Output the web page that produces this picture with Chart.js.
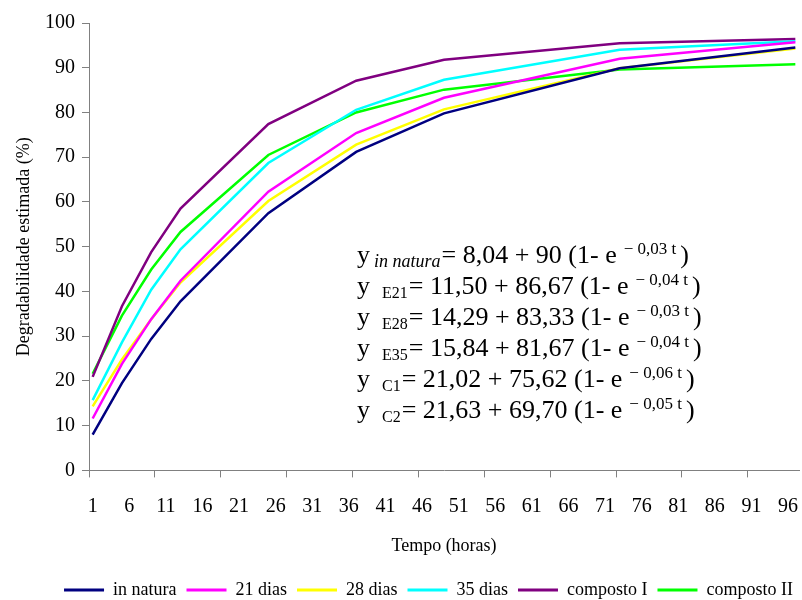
<!DOCTYPE html>
<html>
<head>
<meta charset="utf-8">
<script src="https://cdn.jsdelivr.net/npm/chart.js@4.4.1/dist/chart.umd.min.js"></script>
<style>
  html, body { margin: 0; padding: 0; background: #fff; }
</style>
</head>
<body>
<canvas id="degChart" width="802" height="600"></canvas>
<script>
// incubation hours that carry a point (empty hours are just joined by the line)
const horas = [0, 4, 8, 12, 24, 36, 48, 72, 96];

const inNatura   = [8.0, 19.5, 29.4, 37.8, 57.5, 71.2, 79.8, 89.9, 94.5];
const dias21     = [11.6, 23.8, 33.8, 42.4, 62.3, 75.4, 83.3, 92.0, 95.7];
const dias28     = [14.3, 24.8, 33.8, 42.0, 60.2, 72.8, 80.7, 89.9, 94.3];
const dias35     = [15.7, 28.6, 40.4, 49.4, 68.7, 80.6, 87.3, 94.0, 95.9];
const compostoI  = [20.9, 36.7, 48.8, 58.5, 77.4, 87.1, 91.8, 95.5, 96.4];
const compostoII = [21.6, 34.6, 44.9, 53.3, 70.5, 80.0, 85.1, 89.6, 90.8];

const serieNomes = ["in natura", "21 dias", "28 dias", "35 dias", "composto I", "composto II"];
const serieCores = ["#000080", "#FF00FF", "#FFFF00", "#00FFFF", "#800080", "#00FF00"];

// x axis: categories 1..97 (hour + 1), labels every 5, tick marks every 9
const xLabels = [1, 6, 11, 16, 21, 26, 31, 36, 41, 46, 51, 56, 61, 66, 71, 76, 81, 86, 91, 96];
const xMarks = [0.5, 9.5, 18.5, 27.5, 36.5, 45.5, 54.5, 63.5, 72.5, 81.5, 90.5];

// equations text box: [subscript, italic?, main text, exponent]
const equacoes = [
  ["in natura", true,  "= 8,04 + 90 (1- e",     "\u2212 0,03 t"],
  ["E21",       false, "= 11,50 + 86,67 (1- e", "\u2212 0,04 t"],
  ["E28",       false, "= 14,29 + 83,33 (1- e", "\u2212 0,03 t"],
  ["E35",       false, "= 15,84 + 81,67 (1- e", "\u2212 0,04 t"],
  ["C1",        false, "= 21,02 + 75,62 (1- e", "\u2212 0,06 t"],
  ["C2",        false, "= 21,63 + 69,70 (1- e", "\u2212 0,05 t"]
];

const FONT = '"Liberation Serif", "Times New Roman", serif';
const allSeries = [inNatura, dias21, dias28, dias35, compostoI, compostoII];

const datasets = allSeries.map((vals, i) => ({
  label: serieNomes[i],
  data: horas.map((h, j) => ({ x: h + 1, y: vals[j] })),
  borderColor: serieCores[i],
  backgroundColor: serieCores[i],
  borderWidth: 2.5,
  pointRadius: 0,
  tension: 0,
  fill: false
}));

const equationPlugin = {
  id: "equationBox",
  afterDraw(chart) {
    const ctx = chart.ctx;
    ctx.save();
    ctx.fillStyle = "#000";
    ctx.textBaseline = "alphabetic";
    ctx.textAlign = "left";
    const x0 = 357, y0 = 263, step = 31;
    equacoes.forEach((eq, i) => {
      const yb = y0 + i * step;
      let x = x0;
      ctx.font = "26px " + FONT;
      ctx.fillText("y", x, yb);
      x += ctx.measureText("y").width + (eq[1] ? 4 : 12);
      ctx.font = (eq[1] ? "italic 18px " : "16px ") + FONT;
      ctx.fillText(eq[0], x, yb + 4);
      x += ctx.measureText(eq[0]).width + 1;
      ctx.font = "26px " + FONT;
      ctx.fillText(eq[2], x, yb);
      x += ctx.measureText(eq[2]).width + 7;
      ctx.font = "17px " + FONT;
      ctx.fillText(eq[3], x, yb - 9);
      x += ctx.measureText(eq[3]).width + 4;
      ctx.font = "26px " + FONT;
      ctx.fillText(")", x, yb);
    });
    ctx.restore();
  }
};

// excel puts the legend a bit right of centre and low
const legendShift = {
  id: "legendShift",
  afterLayout(chart) {
    chart.legend.left += 29;
    chart.legend.right += 29;
    chart.legend.top += 9;
    chart.legend.bottom += 9;
  }
};

const config = {
  type: "line",
  data: { datasets: datasets },
  options: {
    responsive: false,
    animation: false,
    devicePixelRatio: 1,
    layout: { padding: { left: 0, right: 3, top: 23, bottom: 0 } },
    scales: {
      x: {
        type: "linear",
        min: 0.5,
        max: 97.5,
        afterBuildTicks: (scale) => {
          scale.ticks = xMarks.concat(xLabels).sort((a, b) => a - b).map(v => ({ value: v }));
        },
        afterFit: (scale) => { scale.paddingLeft = 0; scale.paddingRight = 0; },
        ticks: {
          autoSkip: false,
          maxRotation: 0,
          padding: 17,
          color: "#000",
          font: { family: FONT, size: 20 },
          callback: (v) => Number.isInteger(v) ? String(v) : ""
        },
        grid: {
          drawOnChartArea: false,
          tickLength: 7,
          color: (c) => (c.tick && !Number.isInteger(c.tick.value)) ? "#808080" : "rgba(0,0,0,0)"
        },
        border: { color: "#808080", width: 1 },
        title: {
          display: true,
          text: "Tempo (horas)",
          color: "#000",
          font: { family: FONT, size: 18 },
          padding: { top: 0, bottom: 5 }
        }
      },
      y: {
        min: 0,
        max: 100,
        afterFit: (scale) => { scale.width = 89; },
        ticks: {
          stepSize: 10,
          padding: 7,
          color: "#000",
          font: { family: FONT, size: 20 }
        },
        grid: { drawOnChartArea: false, tickLength: 7, color: "#808080" },
        border: { color: "#808080", width: 1 },
        title: {
          display: true,
          text: "Degradabilidade estimada (%)",
          color: "#000",
          font: { family: FONT, size: 18 },
          padding: { top: 13, bottom: 0 }
        }
      }
    },
    plugins: {
      legend: {
        position: "bottom",
        labels: {
          boxWidth: 40,
          boxHeight: 3,
          padding: 10,
          color: "#000",
          font: { family: FONT, size: 18 },
          generateLabels: (chart) =>
            Chart.defaults.plugins.legend.labels.generateLabels(chart).map(l =>
              Object.assign(l, { lineWidth: 0, fillStyle: l.strokeStyle }))
        }
      },
      tooltip: { enabled: false }
    }
  },
  plugins: [equationPlugin, legendShift]
};

const chart = new Chart(document.getElementById("degChart"), config);
</script>
</body>
</html>
